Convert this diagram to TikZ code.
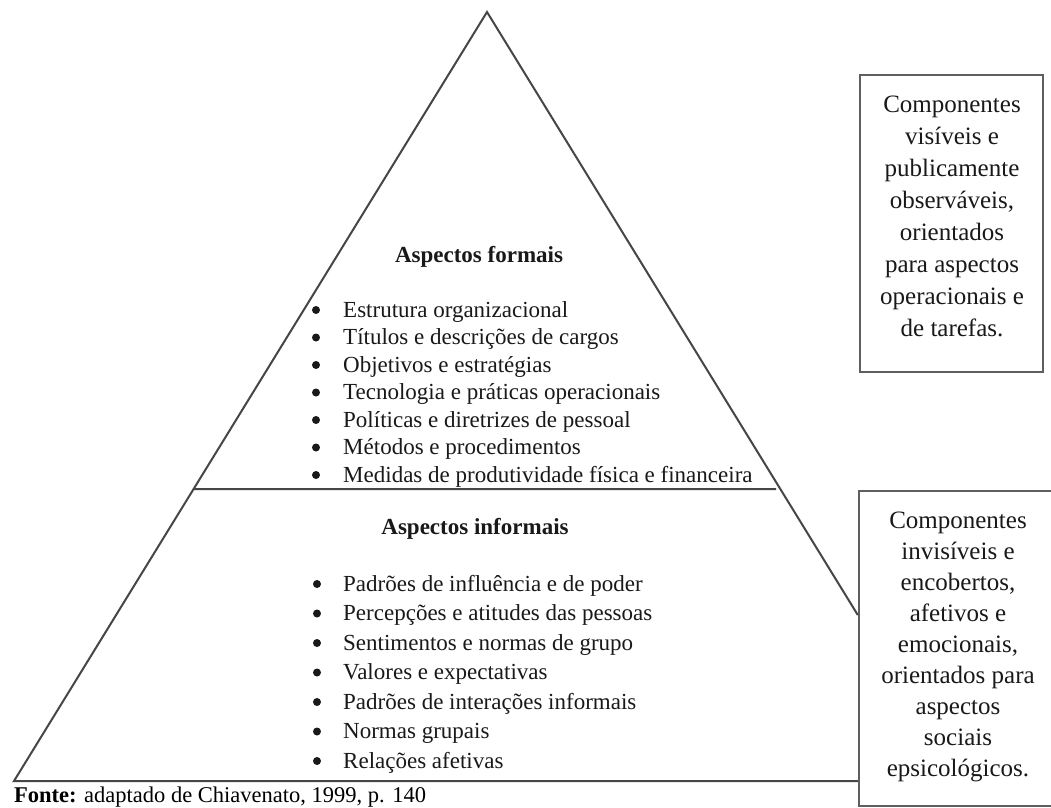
\documentclass[tikz,border=0pt]{standalone}
\usepackage{fontspec}
\setmainfont{Liberation Serif}
\usetikzlibrary{calc}
\definecolor{linegray}{RGB}{70,70,70}
\definecolor{boxgray}{RGB}{95,95,95}
\definecolor{txt}{RGB}{25,25,25}
\begin{document}
\begin{tikzpicture}[x=1pt,y=-1pt,
  pyr/.style={draw=linegray, line width=2pt, line join=miter},
  boxst/.style={draw=boxgray, line width=2.4pt, rectangle, inner sep=0pt},
  item/.style={anchor=base west, inner sep=0pt, font=\fontsize{23}{27}\selectfont, text=txt},
  ttl/.style={anchor=base, inner sep=0pt, font=\bfseries\fontsize{23}{27}\selectfont, text=txt},
  btext/.style={anchor=base, inner sep=0pt, font=\fontsize{25}{31}\selectfont, text=txt},
  bul/.style={circle, fill=txt, inner sep=0pt, minimum size=8pt}]
\useasboundingbox (0,0) rectangle (1051,807);
\fill[white] (0,0) rectangle (1051,807);

% boxes
\node[boxst, minimum width=183pt, minimum height=297pt] (box1) at (951.5,223.5) {};
\node[boxst, minimum width=198pt, minimum height=315pt] (box2) at (958,648.5) {};

% pyramid
\coordinate (apex) at (487,12);
\coordinate (lb) at (14,781);
\coordinate (rs) at (box2.west |- 0,615);
\coordinate (rb) at (box2.west |- lb);
\draw[pyr] (rs) -- (apex) -- (lb) -- (rb);
\coordinate (dl) at ($(lb)!0.3797!(apex)$);
\coordinate (dr) at (776,489);
\draw[pyr] (dl) -- (dr);

% titles
\node[ttl] (tf) at (479,262) {Aspectos formais};
\node[ttl] (ti) at (475,534) {Aspectos informais};

% formal list
\foreach \t [count=\i] in {Estrutura organizacional, Títulos e descrições de cargos, Objetivos e estratégias, Tecnologia e práticas operacionais, Políticas e diretrizes de pessoal, Métodos e procedimentos, Medidas de produtividade física e financeira}{
  \node[item] (f\i) at (343,{317+27.5*(\i-1)}) {\t};
  \node[bul] (fb\i) at (316,{310+27.5*(\i-1)}) {};
}

% informal list
\foreach \t [count=\i] in {Padrões de influência e de poder, Percepções e atitudes das pessoas, Sentimentos e normas de grupo, Valores e expectativas, Padrões de interações informais, Normas grupais, Relações afetivas}{
  \node[item] (n\i) at (343,{591+29.5*(\i-1)}) {\t};
  \node[bul] (nb\i) at (317,{584+29.5*(\i-1)}) {};
}

% box texts
\foreach \t [count=\i] in {Componentes, visíveis e, publicamente, {observáveis,}, orientados, para aspectos, operacionais e, de tarefas.}{
  \node[btext] (a\i) at (952,{112+32*(\i-1)}) {\t};
}
\foreach \t [count=\i] in {Componentes, invisíveis e, {encobertos,}, afetivos e, {emocionais,}, orientados para, aspectos, sociais, epsicológicos.}{
  \node[btext] (b\i) at (958,{528+31*(\i-1)}) {\t};
}

% caption
\node[anchor=base west, inner sep=0pt, font=\fontsize{22.5}{26}\selectfont, text=black] (cap) at (14,802) {\textbf{Fonte:} adaptado de Chiavenato, 1999, p. 140};
\end{tikzpicture}
\end{document}
